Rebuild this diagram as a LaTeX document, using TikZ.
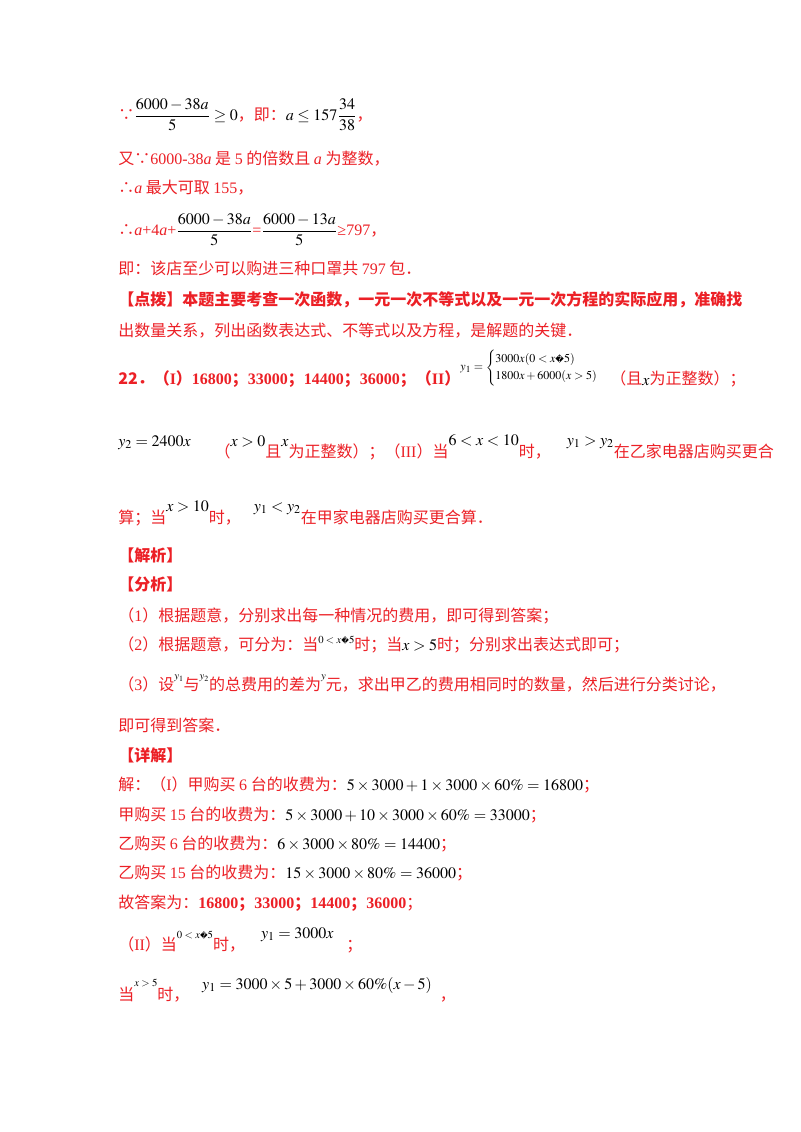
\documentclass[tikz,border=0pt]{standalone}
\usepackage{amsmath}
\usepackage{mathptmx}
\usepackage{fontspec}
\setmainfont{Noto Sans CJK SC}
\newfontfamily\tnr{Liberation Serif}
\newfontfamily\dv{DejaVu Sans}
\definecolor{txtred}{RGB}{236,32,38}
\newcommand{\m}[1]{{\color{black}$#1$}}
\newcommand{\rmt}[2][7.5pt]{\raisebox{#1}{\color{black}$#2$}}
\newcommand{\rst}[2][7pt]{\raisebox{#1}{\footnotesize\color{black}$#2$}}
\newcommand{\q}{\mbox{\dv\scalebox{0.7}{\symbol{"FFFD}}}}
\newcommand{\n}[1]{{\tnr #1}}
\begin{document}
\begin{tikzpicture}[x=0.75pt,y=-0.75pt,
  ln/.style={anchor=base west,inner sep=0pt,text=txtred,font=\fontsize{12}{14}\selectfont}]
\useasboundingbox (0,0) rectangle (800,1132);
\fill[white] (0,0) rectangle (800,1132);
\node[ln] (l1) at (118,120) {∵\m{\dfrac{6000-38a}{5}\ge 0}，即：\m{a\le 157\dfrac{34}{38}}，};
\node[ln] (l2) at (118,164) {又∵\n{6000-38\textit{a}} 是 \n{5} 的倍数且 \n{\textit{a}} 为整数，};
\node[ln] (l3) at (118,193) {∴\n{\textit{a}} 最大可取 \n{155}，};
\node[ln] (l4) at (118,235) {∴\n{\textit{a}+4\textit{a}+}\m{\dfrac{6000-38a}{5}}\n{=}\m{\dfrac{6000-13a}{5}}\n{≥797}，};
\node[ln] (l5) at (118,274) {即：该店至少可以购进三种口罩共 \n{797} 包．};
\node[ln,font=\fontsize{12}{14}\selectfont\bfseries] (l6) at (118,305) {【点拨】本题主要考查一次函数，一元一次不等式以及一元一次方程的实际应用，准确找};
\node[ln] (l7) at (118,336) {出数量关系，列出函数表达式、不等式以及方程，是解题的关键．};
\node[ln] (l8) at (118,384) {\textbf{22．（\n{I}）\n{\bfseries 16800}；\n{\bfseries 33000}；\n{\bfseries 14400}；\n{\bfseries 36000}；（\n{II}）}\raisebox{10pt}{\small\color{black}$y_1=\begin{cases}3000x(0<x\q 5)\\1800x+6000(x>5)\end{cases}$}（且\rmt[-1pt]{x}为正整数）；};
\node[ln] (l9) at (118,457) {\rmt[8pt]{y_2=2400x}\hspace{1.5em}（\rmt[8pt]{x>0}且\rmt[8pt]{x}为正整数）；（\n{III}）当\rmt[9pt]{6<x<10}时，\hspace{1em}\rmt[9pt]{y_1>y_2}在乙家电器店购买更合};
\node[ln] (l10) at (118,523) {算；当\rmt[9pt]{x>10}时，\hspace{0.8em}\rmt[9pt]{y_1<y_2}在甲家电器店购买更合算．};
\node[ln,font=\fontsize{12}{14}\selectfont\bfseries] (l11) at (118,561) {【解析】};
\node[ln,font=\fontsize{12}{14}\selectfont\bfseries] (l12) at (118,590) {【分析】};
\node[ln] (l13) at (118,621) {（\n{1}）根据题意，分别求出每一种情况的费用，即可得到答案；};
\node[ln] (l14) at (118,650) {（\n{2}）根据题意，可分为：当\rst[5pt]{0<x\q 5}时；当\m{x>5}时；分别求出表达式即可；};
\node[ln] (l15) at (118,690) {（\n{3}）设\rst[8pt]{y_1}与\rst[8pt]{y_2}的总费用的差为\rst[8pt]{y}元，求出甲乙的费用相同时的数量，然后进行分类讨论，};
\node[ln] (l16) at (118,731) {即可得到答案．};
\node[ln,font=\fontsize{12}{14}\selectfont\bfseries] (l17) at (118,761) {【详解】};
\node[ln] (l18) at (118,790) {解：（\n{I}）甲购买 \n{6} 台的收费为：\m{5\times3000+1\times3000\times60\%=16800}；};
\node[ln] (l19) at (118,820) {甲购买 \n{15} 台的收费为：\m{5\times3000+10\times3000\times60\%=33000}；};
\node[ln] (l20) at (118,849) {乙购买 \n{6} 台的收费为：\m{6\times3000\times80\%=14400}；};
\node[ln] (l21) at (118,878) {乙购买 \n{15} 台的收费为：\m{15\times3000\times80\%=36000}；};
\node[ln] (l22) at (118,908) {故答案为：\textbf{\n{\bfseries 16800}；\n{\bfseries 33000}；\n{\bfseries 14400}；\n{\bfseries 36000}}；};
\node[ln] (l23) at (118,950) {（\n{II}）当\rst[9pt]{0<x\q 5}时，\hspace{1em}\rmt[9pt]{y_1=3000x}\hspace{0.8em}；};
\node[ln] (l24) at (118,1000) {当\rst[10pt]{x>5}时，\hspace{0.8em}\rmt[8pt]{y_1=3000\times5+3000\times60\%(x-5)}\hspace{0.5em}，};
\end{tikzpicture}
\end{document}
